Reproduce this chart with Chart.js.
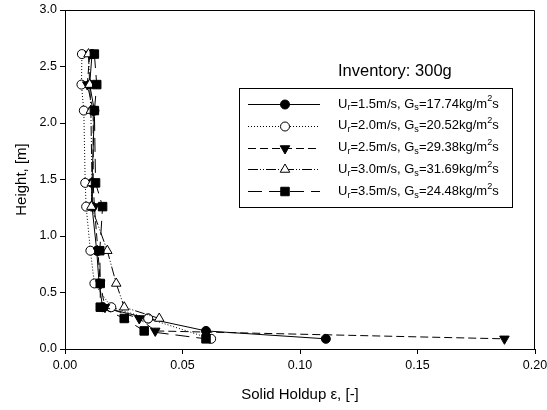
<!DOCTYPE html>
<html><head><meta charset="utf-8">
<script src="https://cdn.jsdelivr.net/npm/chart.js@4/dist/chart.umd.min.js"></script>
<style>html,body{margin:0;padding:0;background:#fff}#wrap{width:547px;height:410px}</style>
</head><body><div id="wrap"><canvas id="c" width="547" height="410"></canvas></div>
<script>
// ---- data ----
const heights = [2.61, 2.34, 2.11, 1.47, 1.26, 0.87, 0.58, 0.37, 0.27, 0.16, 0.09];
const holdupU15 = [0.0115, 0.0105, 0.0125, 0.0115, 0.0115, 0.0135, 0.0145, 0.0160, 0.0354, 0.0600, 0.1110];
const holdupU20 = [0.0072, 0.0070, 0.0080, 0.0086, 0.0090, 0.0108, 0.0125, 0.0197, 0.0354, null, 0.0622];
const holdupU25 = [0.0105, 0.0095, 0.0120, 0.0120, 0.0125, 0.0140, 0.0150, 0.0170, 0.0316, 0.0384, 0.1870];
const holdupU30 = [0.0100, 0.0105, 0.0110, 0.0115, 0.0112, 0.0180, 0.0218, 0.0252, 0.0401, null, null];
const holdupU35 = [0.0125, 0.0135, 0.0125, 0.0130, 0.0160, 0.0148, 0.0150, 0.0150, 0.0252, 0.0337, 0.0600];
const seriesLabels = [
  'U_r=1.5m/s, G_s=17.74kg/m^2s',
  'U_r=2.0m/s, G_s=20.52kg/m^2s',
  'U_r=2.5m/s, G_s=29.38kg/m^2s',
  'U_r=3.0m/s, G_s=31.69kg/m^2s',
  'U_r=3.5m/s, G_s=24.48kg/m^2s'
];
const xTickValues = [0, 0.05, 0.10, 0.15, 0.20];
const yTickValues = [0, 0.5, 1.0, 1.5, 2.0, 2.5, 3.0];
const xTitle = 'Solid Holdup \u03b5, [-]';
const yTitle = 'Height, [m]';
const noteText = 'Inventory: 300g';

const FONT = "'Liberation Sans', Arial, sans-serif";

function pts(xs) {
  const out = [];
  xs.forEach((v, i) => { if (v !== null) out.push({x: v, y: heights[i]}); });
  return out;
}
function ds(label, xs, idx, style) {
  return Object.assign({
    label, data: pts(xs), showLine: true, borderColor: '#000', borderWidth: 1,
    pointBorderColor: '#000', pointBorderWidth: 1, tension: 0, spanGaps: true,
    order: 5 - idx
  }, style);
}
const datasets = [
  ds(seriesLabels[0], holdupU15, 0, {borderDash: [], pointStyle: 'circle', pointRadius: 4.5, pointBackgroundColor: '#000'}),
  ds(seriesLabels[1], holdupU20, 1, {borderDash: [1, 2], pointStyle: 'circle', pointRadius: 4.5, pointBackgroundColor: '#fff'}),
  ds(seriesLabels[2], holdupU25, 2, {borderDash: [8, 4], pointStyle: 'triangle', pointRotation: 180, pointRadius: 5.5, pointBackgroundColor: '#000'}),
  ds(seriesLabels[3], holdupU30, 3, {borderDash: [10, 2, 1, 2, 1, 2], pointStyle: 'triangle', pointRadius: 5.5, pointBackgroundColor: '#fff'}),
  ds(seriesLabels[4], holdupU35, 4, {borderDash: [14, 7], pointStyle: 'rect', pointRadius: 6, pointBackgroundColor: '#000'})
];

function drawRich(ctx, str, x, y, size) {
  let cx = x;
  for (let i = 0; i < str.length; i++) {
    let ch = str[i], sz = size, dy = 0;
    if ((ch === '_' || ch === '^') && i + 1 < str.length) {
      dy = ch === '_' ? size * 0.3 : -size * 0.4;
      sz = size * 0.7; i++; ch = str[i];
    }
    ctx.font = sz + 'px ' + FONT;
    ctx.fillText(ch, cx, y + dy);
    cx += ctx.measureText(ch).width;
  }
}

const framePlugin = {
  id: 'frame',
  afterDatasetsDraw(chart) {
    const {ctx, chartArea: a} = chart;
    ctx.save();
    ctx.strokeStyle = '#000'; ctx.lineWidth = 1;
    ctx.beginPath();
    ctx.moveTo(Math.round(a.left) + 0.5, Math.round(a.top) + 0.5);
    ctx.lineTo(Math.round(a.right) - 0.5, Math.round(a.top) + 0.5);
    ctx.lineTo(Math.round(a.right) - 0.5, Math.round(a.bottom) + 0.5);
    ctx.stroke();
    ctx.restore();
  }
};

const legendPlugin = {
  id: 'customLegend',
  afterDraw(chart) {
    const ctx = chart.ctx;
    ctx.save();
    ctx.fillStyle = '#000';
    ctx.font = '16.5px ' + FONT;
    ctx.textBaseline = 'middle';
    ctx.textAlign = 'left';
    ctx.fillText(noteText, 338, 71);
    const bx = 239, by = 88, bw = 273, bh = 119;
    ctx.strokeStyle = '#000'; ctx.lineWidth = 1;
    ctx.strokeRect(bx + 0.5, by + 0.5, bw, bh);
    chart.data.datasets.forEach((d, i) => {
      const y = 104 + i * 21.8;
      ctx.save();
      ctx.strokeStyle = '#000'; ctx.lineWidth = 1;
      ctx.setLineDash(d.borderDash || []);
      ctx.beginPath(); ctx.moveTo(248, Math.round(y) + 0.5); ctx.lineTo(320, Math.round(y) + 0.5); ctx.stroke();
      ctx.setLineDash([]);
      ctx.fillStyle = d.pointBackgroundColor;
      ctx.strokeStyle = '#000';
      Chart.helpers.drawPoint(ctx, {pointStyle: d.pointStyle, rotation: d.pointRotation || 0, radius: d.pointRadius, borderWidth: 1}, 285, Math.round(y) + 0.5);
      ctx.restore();
      ctx.fillStyle = '#000';
      ctx.textBaseline = 'middle';
      drawRich(ctx, d.label, 338, y, 13);
    });
    ctx.restore();
  }
};

const axisCommon = {
  grid: {drawOnChartArea: false, drawTicks: true, tickLength: 5, color: '#000', lineWidth: 1},
  border: {display: true, color: '#000', width: 1}
};

new Chart(document.getElementById('c'), {
  type: 'scatter',
  data: {datasets},
  options: {
    responsive: false, animation: false, devicePixelRatio: 1,
    layout: {padding: {top: 10, right: 12, left: 0, bottom: 0}},
    plugins: {legend: {display: false}, tooltip: {enabled: false}},
    scales: {
      x: Object.assign({}, axisCommon, {
        type: 'linear', min: 0, max: 0.2,
        afterBuildTicks(s) { s.ticks = xTickValues.map(v => ({value: v})); },
        afterFit(s) { s.height = 61; s.paddingLeft = 0; s.paddingRight = 0; },
        ticks: {color: '#000', font: {family: FONT, size: 12.5}, padding: 4, maxRotation: 0, callback: v => v.toFixed(2)},
        title: {display: true, text: xTitle, color: '#000', font: {family: FONT, size: 15}, padding: {top: 0, bottom: 6}}
      }),
      y: Object.assign({}, axisCommon, {
        type: 'linear', min: 0, max: 3,
        afterBuildTicks(s) { s.ticks = yTickValues.map(v => ({value: v})); },
        afterFit(s) { s.width = 65; s.paddingTop = 0; s.paddingBottom = 0; },
        ticks: {color: '#000', font: {family: FONT, size: 12.5}, padding: 3, callback: v => v.toFixed(1)},
        title: {display: true, text: yTitle, color: '#000', font: {family: FONT, size: 15}, padding: {top: 13, bottom: 0}}
      })
    }
  },
  plugins: [framePlugin, legendPlugin]
});
</script></body></html>
